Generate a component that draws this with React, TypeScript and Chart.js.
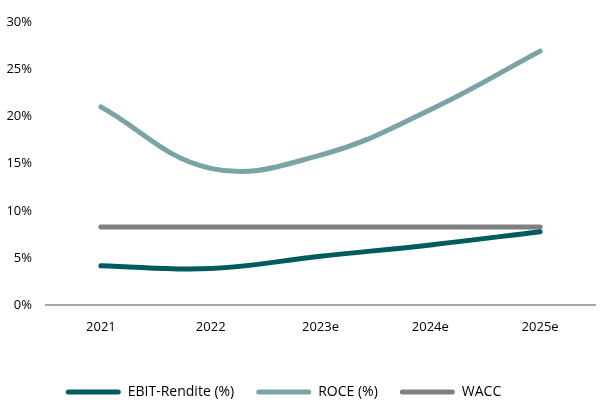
import React, { useEffect, useRef } from "react";
import { Chart, registerables } from "chart.js";

Chart.register(...registerables);

const categories = ["2021", "2022", "2023e", "2024e", "2025e"];
const ebit = [4.2, 3.9, 5.2, 6.4, 7.8];
const roce = [21.0, 14.5, 15.9, 20.7, 26.9];
const wacc = [8.3, 8.3, 8.3, 8.3, 8.3];
const yTicks = [0, 5, 10, 15, 20, 25, 30];

const FONT = "'Open Sans', 'Liberation Sans', sans-serif";

const shiftLegend = {
  id: "shiftLegend",
  afterLayout(chart: any) {
    const lg = chart.legend;
    if (!lg) return;
    lg.top += 7;
    lg.bottom += 7;
    lg.left -= 14;
    lg.right -= 14;
  },
};

export default function App() {
  const ref = useRef<HTMLCanvasElement | null>(null);
  useEffect(() => {
    document.body.style.margin = "0";
    const ctx = ref.current!;
    const mk = (label: string, data: number[], color: string) => ({
      label,
      data,
      borderColor: color,
      backgroundColor: color,
      borderWidth: 5,
      pointRadius: 0,
      tension: 0.4,
      borderCapStyle: "round" as const,
      fill: false,
    });
    const chart = new Chart(ctx, {
      type: "line",
      data: {
        labels: categories,
        datasets: [
          mk("EBIT-Rendite (%)", ebit, "#005B5C"),
          mk("ROCE (%)", roce, "#7AA3A4"),
          mk("WACC", wacc, "#808080"),
        ],
      },
      plugins: [shiftLegend],
      options: {
        animation: false,
        responsive: true,
        maintainAspectRatio: false,
        layout: { padding: { top: 4, right: 11, left: 0, bottom: 0 } },
        plugins: {
          tooltip: { enabled: false },
          legend: {
            position: "bottom",
            labels: {
              font: { family: FONT, size: 14 },
              color: "#000",
              boxWidth: 55,
              boxHeight: 5,
              padding: 22,
              useBorderRadius: true,
              borderRadius: 2.5,
              generateLabels: (c: any) =>
                Chart.defaults.plugins.legend.labels
                  .generateLabels(c)
                  .map((l: any) => ({ ...l, lineWidth: 0 })),
            },
          },
        },
        scales: {
          x: {
            offset: true,
            grid: { display: false, drawTicks: false },
            border: { display: true, color: "#A6A6A6", width: 2 },
            ticks: { font: { family: FONT, size: 13 }, color: "#000", padding: 14 },
            afterFit: (axis: any) => {
              axis.height += 7;
            },
          },
          y: {
            min: 0,
            max: 30,
            afterBuildTicks: (axis: any) => {
              axis.ticks = yTicks.map((v) => ({ value: v }));
            },
            afterFit: (axis: any) => {
              axis.width = 46;
            },
            grid: { display: false, drawTicks: false },
            border: { display: false },
            ticks: {
              font: { family: FONT, size: 13 },
              color: "#000",
              padding: 14,
              callback: (v: any) => v + "%",
            },
          },
        },
      },
    });
    return () => chart.destroy();
  }, []);
  return (
    <div style={{ position: "fixed", left: 0, top: 0, width: 606, height: 402 }}>
      <canvas ref={ref} />
    </div>
  );
}
